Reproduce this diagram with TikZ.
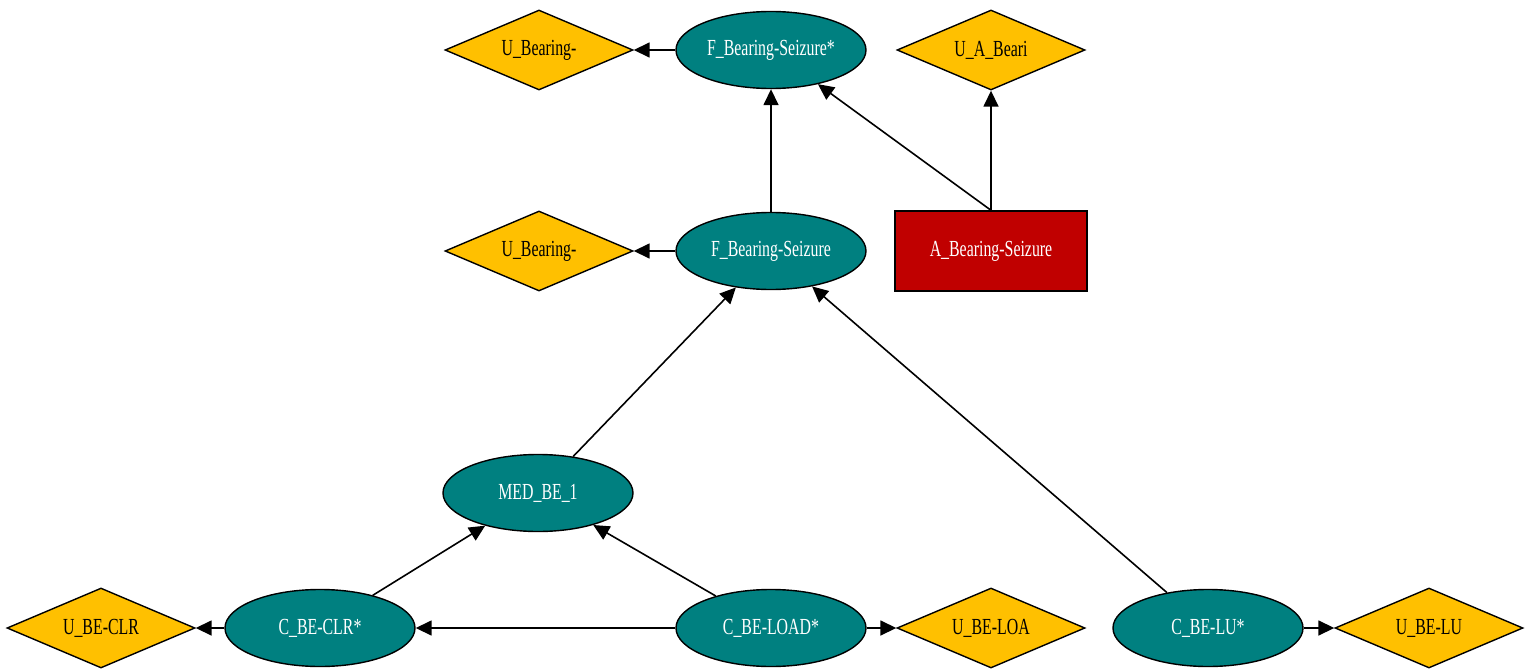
\documentclass[tikz,border=0pt]{standalone}
\usepackage{fontspec}
\setmainfont{Liberation Serif}
\newfontfamily\condfont[FakeStretch=0.69]{Liberation Serif}
\usetikzlibrary{shapes.geometric,arrows.meta}
\definecolor{tealc}{HTML}{008080}
\definecolor{goldc}{HTML}{FFC000}
\definecolor{redc}{HTML}{C00000}
\tikzset{
  base/.style={draw=black, line width=1.4pt, inner sep=0pt, font=\condfont\fontsize{23}{25}\selectfont},
  fnode/.style={base, ellipse, fill=tealc, text=white, minimum width=190pt, minimum height=77pt},
  unode/.style={base, diamond, fill=goldc, text=black, minimum width=188pt, minimum height=80pt, aspect=2.35},
  anode/.style={base, rectangle, fill=redc, text=white, minimum width=192pt, minimum height=80pt},
  edge/.style={line width=1.6pt, -{Triangle[length=16pt,width=15pt]}}
}
\begin{document}
\begin{tikzpicture}[x=1pt,y=-1pt]
\useasboundingbox (0,0) rectangle (1532,669);
\node[unode] (u1) at (539,50) {U\_Bearing-};
\node[fnode] (fs) at (771,50) {F\_Bearing-Seizure*};
\node[unode] (ua) at (991,50) {U\_A\_Beari};
\node[unode] (u2) at (539,251) {U\_Bearing-};
\node[fnode] (f) at (771,251) {F\_Bearing-Seizure};
\node[anode] (a) at (991,251) {A\_Bearing-Seizure};
\node[fnode] (med) at (538,493) {MED\_BE\_1};
\node[unode] (uclr) at (101,628) {U\_BE-CLR};
\node[fnode] (cclr) at (320,628) {C\_BE-CLR*};
\node[fnode] (cload) at (771,628) {C\_BE-LOAD*};
\node[unode] (uloa) at (991,628) {U\_BE-LOA};
\node[fnode] (clu) at (1208,628) {C\_BE-LU*};
\node[unode] (ulu) at (1429,628) {U\_BE-LU};
\draw[edge] (fs) -- (u1);
\draw[edge] (f) -- (fs);
\draw[edge] (a.north) -- (fs);
\draw[edge] (a.north) -- (ua);
\draw[edge] (f) -- (u2);
\draw[edge] (med) -- (f);
\draw[edge] (clu) -- (f);
\draw[edge] (cclr) -- (med);
\draw[edge] (cload) -- (med);
\draw[edge] (cload) -- (cclr);
\draw[edge] (cclr) -- (uclr);
\draw[edge] (cload) -- (uloa);
\draw[edge] (clu) -- (ulu);
\end{tikzpicture}
\end{document}
